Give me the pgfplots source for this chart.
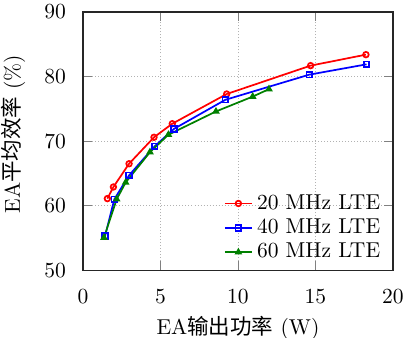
\documentclass[border=0pt]{standalone}
\usepackage{pgfplots}
\pgfplotsset{compat=1.18}
\usepackage{fontspec}
\newfontfamily\cjk{Noto Sans CJK SC}
\begin{document}
\begin{tikzpicture}
\begin{axis}[
  name=ax,
  scale only axis, width=144pt, height=120pt,
  xmin=0, xmax=20, ymin=50, ymax=90,
  xtick={0,5,10,15,20}, ytick={50,60,70,80,90},
  grid=major, major grid style={densely dotted, gray!60},
  axis line style={semithick, black!85},
  xticklabel style={yshift=-5.5pt},
  yticklabel style={xshift=-4.5pt},
  xlabel={EA{\cjk 输出功率} (W)},
  ylabel={EA{\cjk 平均效率} (\%)},
  xlabel style={yshift=1pt},
  ylabel style={at={(ticklabel cs:0.527,2pt)}},
  legend style={at={(0.995,0.0)}, anchor=south east, draw=none, fill=none, font=\normalsize, row sep=-1pt},
  legend cell align=left,
  legend image code/.code={\draw[mark repeat=2,mark phase=2] plot coordinates {(0cm,0cm) (0.22cm,0cm) (0.44cm,0cm)};},
  every axis plot/.append style={thick, mark size=1.3pt},
]
\addplot[red, mark=o] coordinates {(1.57,61.1) (1.96,62.9) (2.97,66.5) (4.58,70.6) (5.76,72.7) (9.27,77.3) (14.69,81.7) (18.26,83.4)};
\addplot[blue, mark=square] coordinates {(1.42,55.3) (2.02,61.0) (2.97,64.7) (4.62,69.2) (5.87,71.9) (9.18,76.4) (14.6,80.3) (18.3,81.9)};
\addplot[green!50!black, mark=triangle*] coordinates {(1.35,55.05) (2.17,61.0) (2.75,63.6) (4.32,68.3) (5.51,71.0) (8.58,74.6) (10.95,76.9) (12.0,78.06)};
\legend{20 MHz LTE, 40 MHz LTE, 60 MHz LTE}
\end{axis}
\pgfresetboundingbox
\path ([xshift=-38.6pt,yshift=-31.2pt]ax.south west) rectangle ([xshift=4.7pt,yshift=5.6pt]ax.north east);
\end{tikzpicture}
\end{document}
